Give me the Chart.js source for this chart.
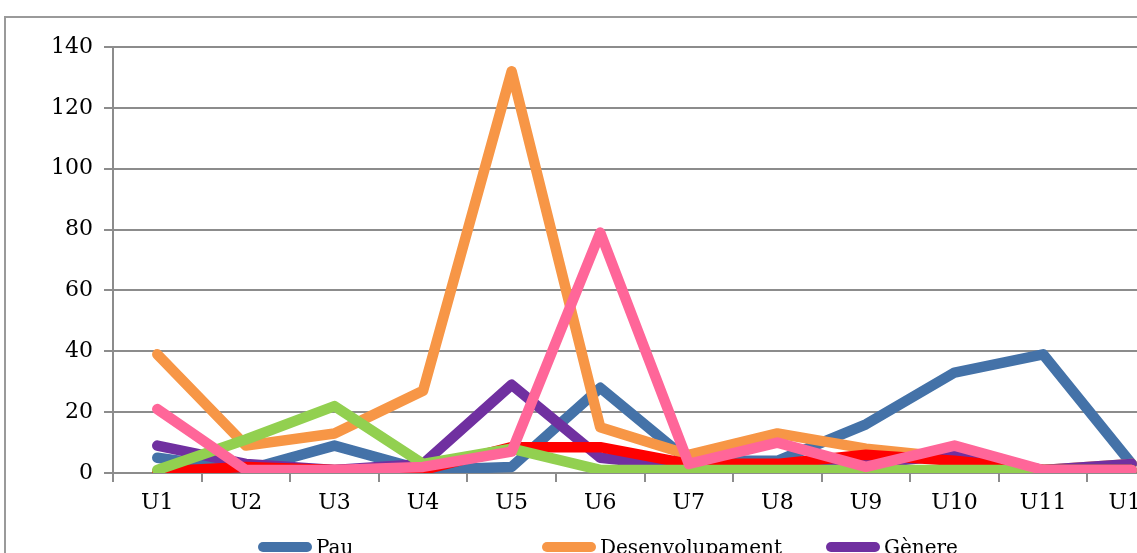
<!DOCTYPE html>
<html>
<head>
<meta charset="utf-8">
<script src="https://cdn.jsdelivr.net/npm/chart.js@4.4.1/dist/chart.umd.min.js"></script>
<style>
  html, body { margin: 0; padding: 0; background: #fff; overflow: hidden; width: 1137px; height: 553px; }
  #frame { position: absolute; left: 4px; top: 16px; width: 1300px; height: 700px; border-top: 2px solid #9a9a9a; border-left: 2px solid #9a9a9a; }
  #c { position: absolute; left: 0; top: 0; }
</style>
</head>
<body>
<div id="frame"></div>
<canvas id="c" width="1200" height="553"></canvas>
<script>
const categories = ['U1','U2','U3','U4','U5','U6','U7','U8','U9','U10','U11','U12'];
const seriesNames = ['Pau','Desenvolupament','Gènere','Drets humans','Medi ambient','Interculturalitat'];
const pau = [5, 1, 9, 1, 2, 28, 4, 4, 16, 33, 39, 3];
const desenvolupament = [39, 9, 13, 27, 132, 15, 6, 13, 8, 5, 1, 3];
const genere = [9, 3, 1, 3, 29, 5, 2, 2, 3, 6, 1, 3];
const vermell = [0.5, 2, 1, 1, 8.5, 8.5, 3, 3, 6, 4, 1, 1];
const verd = [1, 11, 22, 3, 8, 1, 1, 1, 1, 1, 1, 1];
const rosa = [21, 1, 1, 2, 7, 79, 3, 10, 2, 9, 1, 1];
const yTicks = [0, 20, 40, 60, 80, 100, 120, 140];
const colors = ['#4472A8', '#F79646', '#7030A0', '#FF0000', '#92D050', '#FF6699'];
const values = [pau, desenvolupament, genere, vermell, verd, rosa];

const FONT = '"DejaVu Serif", "Liberation Serif", serif';
const GRID = '#8c8c8c';

const legendPlugin = {
  id: 'fixedLegend',
  afterDraw(chart) {
    const ctx = chart.ctx;
    ctx.save();
    chart.data.datasets.forEach((ds, i) => {
      const col = i % 3, row = Math.floor(i / 3);
      const x = 258 + col * 284;
      const y = 547 + row * 30;
      ctx.strokeStyle = ds.borderColor;
      ctx.lineWidth = 10;
      ctx.lineCap = 'round';
      ctx.beginPath();
      ctx.moveTo(x + 5, y);
      ctx.lineTo(x + 49, y);
      ctx.stroke();
      ctx.fillStyle = '#000';
      ctx.font = '20px ' + FONT;
      ctx.textBaseline = 'middle';
      ctx.textAlign = 'left';
      ctx.fillText(ds.label, x + 58, y + 2);
    });
    ctx.restore();
  }
};

new Chart(document.getElementById('c'), {
  type: 'line',
  data: {
    labels: categories,
    datasets: values.map((v, i) => ({
      label: seriesNames[i],
      data: v,
      order: values.length - i,
      borderColor: colors[i],
      backgroundColor: colors[i],
      borderWidth: 10.5,
      pointRadius: 0,
      pointHoverRadius: 0,
      borderJoinStyle: 'round',
      borderCapStyle: 'round',
      tension: 0,
      clip: {left: 6, top: 6, right: 6, bottom: 0}
    }))
  },
  options: {
    responsive: false,
    devicePixelRatio: 1,
    animation: false,
    events: [],
    layout: { padding: { left: 0, top: 47, right: 24, bottom: 0 } },
    plugins: { legend: { display: false }, tooltip: { enabled: false }, title: { display: false } },
    scales: {
      x: {
        offset: true,
        grid: { offset: true, drawOnChartArea: false, drawTicks: true, tickLength: 9, color: GRID, lineWidth: 2 },
        border: { display: true, color: GRID, width: 2 },
        ticks: { color: '#000', font: { family: FONT, size: 22 }, padding: 8, maxRotation: 0, autoSkip: false },
        afterFit(s) { s.height = 80; }
      },
      y: {
        min: 0, max: 140,
        afterBuildTicks(s) { s.ticks = yTicks.map(v => ({ value: v })); },
        grid: { color: GRID, lineWidth: 2, tickLength: 9, drawTicks: true },
        border: { display: true, color: GRID, width: 2 },
        ticks: { color: '#000', font: { family: FONT, size: 22 }, padding: 11 },
        afterFit(s) { s.width = 113; }
      }
    }
  },
  plugins: [legendPlugin]
});
</script>
</body>
</html>
